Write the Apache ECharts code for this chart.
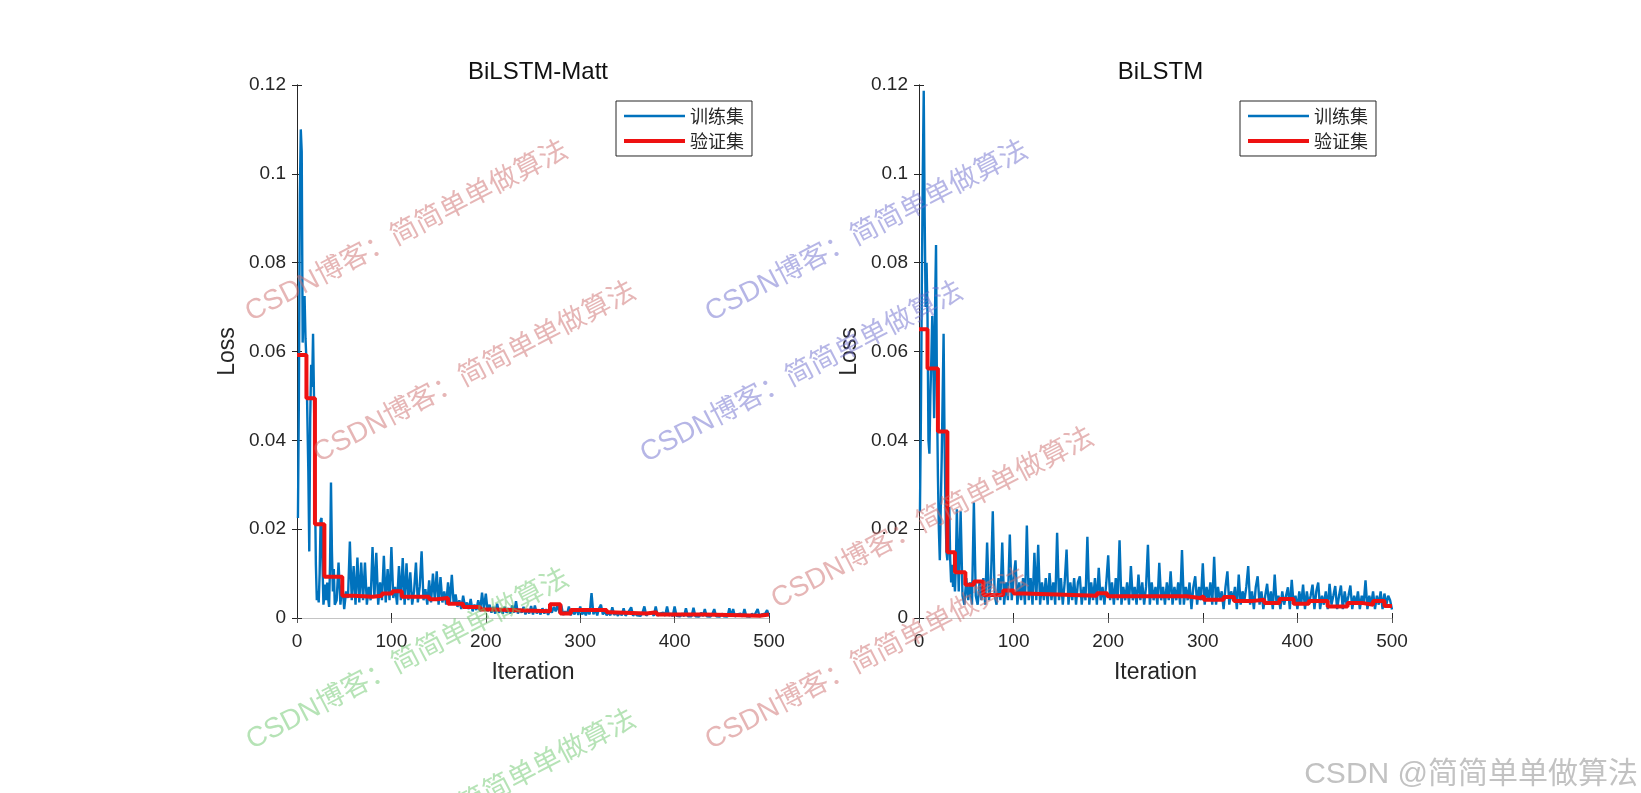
<!DOCTYPE html>
<html>
<head>
<meta charset="utf-8">
<script src="https://cdn.jsdelivr.net/npm/echarts@6/dist/echarts.min.js"></script>
<style>
html,body{margin:0;padding:0;background:#fff;}
#chart{width:1641px;height:793px;}
</style>
</head>
<body>
<div id="chart"></div>
<script>
// ---------------- data ----------------
const titles = ['BiLSTM-Matt', 'BiLSTM'];
const seriesNames = ['训练集', '验证集'];
const xTickLabels = ['0', '100', '200', '300', '400', '500'];
const yTickLabels = ['0', '0.02', '0.04', '0.06', '0.08', '0.1', '0.12'];

// BiLSTM-Matt training loss: iterations 1..40 (every iteration)
const trainLeftEarly = [0.0225,0.05,0.095,0.11,0.105,0.062,0.07,0.0725,0.063,0.058,
  0.045,0.033,0.015,0.045,0.057,0.052,0.064,0.05,0.03,0.012,
  0.004,0.006,0.0035,0.01,0.022,0.0225,0.012,0.003,0.005,0.0075,
  0.004,0.008,0.0045,0.0025,0.012,0.0305,0.015,0.006,0.011,0.003];
// BiLSTM-Matt training loss: iterations 42..500 (every 2nd iteration)
const trainLeftLate = [
  0.004,0.0125,0.003,0.008,0.002,0.006,0.0045,0.0172,0.004,0.0117,
  0.003,0.0136,0.0035,0.0125,0.004,0.0125,0.003,0.007,0.004,0.016,
  0.0045,0.0147,0.003,0.008,0.004,0.014,0.0035,0.011,0.004,0.016,
  0.0045,0.007,0.003,0.0117,0.004,0.0135,0.003,0.0123,0.004,0.0103,
  0.003,0.006,0.0125,0.0035,0.007,0.015,0.004,0.0065,0.003,0.0085,
  0.0035,0.01,0.004,0.0105,0.003,0.0092,0.0035,0.006,0.003,0.008,
  0.0035,0.0097,0.003,0.0053,0.0025,0.004,0.002,0.005,0.0025,0.0035,
  0.002,0.0043,0.0015,0.003,0.0018,0.004,0.0015,0.0057,0.002,0.0055,
  0.0015,0.003,0.0012,0.0025,0.001,0.0032,0.0012,0.002,0.001,0.0025,
  0.0012,0.0022,0.001,0.0028,0.0012,0.0038,0.001,0.002,0.0012,0.0025,
  0.0008,0.002,0.001,0.0027,0.0008,0.0028,0.001,0.0018,0.0008,0.0022,
  0.001,0.002,0.0007,0.0018,0.0012,0.0025,0.0015,0.003,0.0012,0.0028,
  0.0007,0.0015,0.0008,0.0026,0.0006,0.0018,0.0008,0.0022,0.0007,0.0026,
  0.0008,0.0015,0.0006,0.0018,0.0008,0.0056,0.0008,0.002,0.0006,0.0022,
  0.003,0.0008,0.0015,0.0006,0.0012,0.0006,0.0024,0.0007,0.0012,0.0005,
  0.0013,0.0006,0.0022,0.0005,0.001,0.0006,0.0024,0.0005,0.0012,0.0006,
  0.001,0.0005,0.0012,0.0026,0.0005,0.001,0.0006,0.0012,0.0005,0.0026,
  0.0005,0.001,0.0006,0.0012,0.0005,0.0026,0.0005,0.001,0.0004,0.0026,
  0.0005,0.0008,0.0004,0.001,0.0004,0.0022,0.0004,0.0008,0.0004,0.0023,
  0.0004,0.0008,0.0003,0.0012,0.0004,0.002,0.0004,0.0008,0.0003,0.0009,
  0.002,0.0004,0.0008,0.0003,0.001,0.0004,0.0008,0.0003,0.0022,0.0004,
  0.002,0.0003,0.0008,0.0004,0.001,0.0003,0.002,0.0004,0.0008,0.0003,
  0.001,0.0004,0.0008,0.002,0.0003,0.0008,0.0004,0.001,0.0018,0.0005];
const valLeftIter = [0,10,19,29,48,60,80,90,101,111,140,148,160,176,194,208,268,279,290,328,331,370,381,430,470,490,500];
const valLeftLoss = [0.0592,0.0495,0.0211,0.0093,0.0050,0.0048,0.0050,0.0055,0.0060,0.0048,0.0042,0.0045,0.0032,0.0025,0.0019,0.0015,0.0031,0.0010,0.0018,0.0013,0.0010,0.0013,0.0008,0.0006,0.0005,0.0008,0.0008];

// BiLSTM training loss: iterations 1..40
const trainRightEarly = [0.024,0.045,0.075,0.1,0.1187,0.09,0.07,0.08,0.068,0.04,
  0.037,0.05,0.058,0.068,0.06,0.045,0.07,0.084,0.05,0.032,
  0.02,0.013,0.025,0.036,0.05,0.064,0.04,0.025,0.015,0.013,
  0.018,0.025,0.013,0.008,0.012,0.007,0.01,0.006,0.012,0.0245];
// BiLSTM training loss: iterations 42..500 (every 2nd iteration)
const trainRightLate = [
  0.006,0.024,0.005,0.003,0.009,0.004,0.008,0.003,0.026,0.005,
  0.003,0.008,0.004,0.009,0.003,0.017,0.004,0.008,0.024,0.005,
  0.003,0.009,0.004,0.017,0.003,0.008,0.004,0.0188,0.004,0.009,
  0.013,0.003,0.008,0.004,0.009,0.003,0.0208,0.004,0.009,0.003,
  0.0147,0.004,0.0165,0.003,0.008,0.004,0.009,0.003,0.0101,0.004,
  0.008,0.003,0.0192,0.004,0.009,0.003,0.008,0.0154,0.003,0.008,
  0.004,0.009,0.003,0.008,0.0094,0.003,0.007,0.004,0.0183,0.003,
  0.008,0.004,0.009,0.003,0.0113,0.004,0.007,0.003,0.008,0.0141,
  0.004,0.008,0.003,0.009,0.004,0.0175,0.003,0.007,0.004,0.008,
  0.003,0.0117,0.004,0.007,0.003,0.0098,0.004,0.008,0.003,0.007,
  0.0165,0.003,0.008,0.004,0.007,0.003,0.0124,0.004,0.007,0.003,
  0.008,0.004,0.0105,0.003,0.007,0.004,0.008,0.003,0.0153,0.003,
  0.007,0.004,0.008,0.002,0.007,0.0094,0.003,0.007,0.004,0.0123,
  0.003,0.007,0.004,0.008,0.003,0.0138,0.003,0.007,0.004,0.006,
  0.002,0.007,0.0105,0.003,0.006,0.004,0.007,0.002,0.0098,0.003,
  0.006,0.004,0.007,0.0117,0.003,0.006,0.002,0.007,0.0094,0.003,
  0.006,0.002,0.005,0.0077,0.003,0.006,0.002,0.0098,0.003,0.005,
  0.002,0.006,0.003,0.005,0.0069,0.002,0.0086,0.003,0.005,0.002,
  0.006,0.003,0.0075,0.002,0.006,0.003,0.005,0.0075,0.002,0.006,
  0.008,0.002,0.005,0.003,0.006,0.002,0.0077,0.003,0.005,0.0072,
  0.002,0.005,0.0073,0.002,0.006,0.003,0.005,0.0073,0.002,0.005,
  0.003,0.006,0.002,0.005,0.003,0.0085,0.002,0.005,0.003,0.006,
  0.002,0.005,0.003,0.006,0.002,0.0055,0.003,0.005,0.004,0.0019];
const valRightIter = [0,9,20,30,38,49,58,68,89,100,111,146,188,199,283,297,301,322,333,351,365,381,396,412,432,453,468,480,492,500];
const valRightLoss = [0.065,0.0562,0.042,0.0148,0.0103,0.0075,0.0082,0.0052,0.0062,0.0055,0.0053,0.0050,0.0056,0.0049,0.0045,0.0049,0.0041,0.0047,0.0038,0.0041,0.0034,0.0043,0.0032,0.0038,0.0026,0.0034,0.0030,0.0038,0.0027,0.0027];

const watermarkText = 'CSDN博客：简简单单做算法';
const footerText = 'CSDN @简简单单做算法';

// ---------------- build ----------------
function trainPairs(early, late) {
  const out = [];
  early.forEach((v, k) => out.push([k + 1, v]));
  late.forEach((v, k) => out.push([42 + 2 * k, v]));
  return out;
}
function zipPairs(xs, ys) { return xs.map((x, k) => [x, ys[k]]); }

const FONT = '"Liberation Sans", Arial, "Noto Sans CJK SC", sans-serif';
const CJK = '"Noto Sans CJK SC", "Liberation Sans", sans-serif';
const INK = '#262626';
const BLUE = '#0072BD';
const RED = '#ee1111';
const TRAIN_W = 2.4;
const VAL_W = 4;

const grids = [
  {left: 297, top: 85, width: 472, height: 533},
  {left: 919, top: 85, width: 473, height: 533}
];

const xAxes = [], yAxes = [], series = [], titleArr = [], legends = [];
grids.forEach((g, gi) => {
  xAxes.push({
    type: 'value', gridIndex: gi, position: 'bottom', min: 0, max: 500, interval: 100,
    name: 'Iteration', nameLocation: 'middle', nameGap: 43,
    nameTextStyle: {fontFamily: FONT, fontSize: 23, color: INK},
    axisLine: {show: true, lineStyle: {color: INK, width: 1}},
    axisTick: {show: true, inside: true, length: 5, lineStyle: {color: INK}},
    axisLabel: {fontFamily: FONT, fontSize: 19, color: INK, margin: 14,
      formatter: v => xTickLabels[Math.round(v / 100)]},
    splitLine: {show: false}
  });
  xAxes.push({
    type: 'value', gridIndex: gi, position: 'top', min: 0, max: 500, interval: 100,
    axisLine: {show: true, lineStyle: {color: '#c4c4c4', width: 1}},
    axisTick: {show: true, inside: true, length: 5, lineStyle: {color: '#555'}},
    axisLabel: {show: false}, splitLine: {show: false}
  });
  yAxes.push({
    type: 'value', gridIndex: gi, position: 'left', min: 0, max: 0.12, interval: 0.02,
    name: 'Loss', nameLocation: 'middle', nameGap: 58,
    nameTextStyle: {fontFamily: FONT, fontSize: 23, color: INK},
    axisLine: {show: true, lineStyle: {color: INK, width: 1}},
    axisTick: {show: true, inside: true, length: 5, lineStyle: {color: INK}},
    axisLabel: {fontFamily: FONT, fontSize: 19, color: INK, margin: 11,
      formatter: v => yTickLabels[Math.round(v / 0.02)]},
    splitLine: {show: false}
  });
  yAxes.push({
    type: 'value', gridIndex: gi, position: 'right', min: 0, max: 0.12, interval: 0.02,
    axisLine: {show: true, lineStyle: {color: INK, width: 1}},
    axisTick: {show: true, inside: true, length: 5, lineStyle: {color: INK}},
    axisLabel: {show: false}, splitLine: {show: false}
  });
  titleArr.push({
    text: titles[gi], left: g.left + g.width / 2, top: 55, textAlign: 'center',
    textStyle: {fontFamily: FONT, fontSize: 24, fontWeight: 'normal', color: '#111'}
  });
  legends.push({
    data: [
      {name: seriesNames[0], lineStyle: {width: TRAIN_W, color: BLUE}},
      {name: seriesNames[1], lineStyle: {width: VAL_W, color: RED}}
    ],
    orient: 'vertical',
    left: gi === 0 ? 616 : 1240, top: 101,
    itemWidth: 61, itemHeight: 14, itemGap: 7,
    padding: [6, 8, 6, 6],
    backgroundColor: '#fff', borderColor: INK, borderWidth: 1, borderRadius: 0,
    selectedMode: false,
    itemStyle: {color: 'rgba(0,0,0,0)', borderWidth: 0, opacity: 0},
    textStyle: {fontFamily: CJK, fontSize: 18, color: INK}
  });
});

const trainData = [trainPairs(trainLeftEarly, trainLeftLate), trainPairs(trainRightEarly, trainRightLate)];
const valData = [zipPairs(valLeftIter, valLeftLoss), zipPairs(valRightIter, valRightLoss)];

[0, 1].forEach(gi => {
  series.push({
    name: seriesNames[0], type: 'line', xAxisIndex: gi * 2, yAxisIndex: gi * 2,
    data: trainData[gi], showSymbol: false, symbol: 'none', sampling: null,
    lineStyle: {color: BLUE, width: TRAIN_W}, itemStyle: {color: BLUE}, z: 2, clip: true
  });
  series.push({
    name: seriesNames[1], type: 'line', xAxisIndex: gi * 2, yAxisIndex: gi * 2,
    data: valData[gi], step: 'end', showSymbol: false, symbol: 'none',
    lineStyle: {color: RED, width: VAL_W}, itemStyle: {color: RED}, z: 3, clip: true
  });
});

// watermarks (start point, colour)
const wmStarts = [
  [254, 327, 'rgba(205,110,110,0.5)'],
  [322, 468, 'rgba(205,110,110,0.5)'],
  [714, 327, 'rgba(110,110,205,0.5)'],
  [649, 468, 'rgba(110,110,205,0.5)'],
  [780, 614, 'rgba(205,110,110,0.5)'],
  [714, 755, 'rgba(205,110,110,0.5)'],
  [255, 755, 'rgba(110,200,110,0.5)'],
  [322, 896, 'rgba(110,200,110,0.5)']
];
const graphics = wmStarts.map(w => ({
  type: 'text', x: w[0], y: w[1], rotation: 0.48, z: 100, silent: true,
  style: {text: watermarkText, fill: w[2], font: '28px ' + FONT, align: 'left', verticalAlign: 'bottom'}
}));
graphics.push({
  type: 'text', x: 1638, y: 775, z: 100, silent: true,
  style: {text: footerText, fill: '#c2c2c2', font: '30px ' + FONT, align: 'right', verticalAlign: 'middle'}
});

const chart = echarts.init(document.getElementById('chart'), null, {renderer: 'canvas'});
chart.setOption({
  animation: false,
  backgroundColor: '#fff',
  title: titleArr,
  legend: legends,
  grid: grids,
  xAxis: xAxes,
  yAxis: yAxes,
  series: series,
  graphic: graphics
});
</script>
</body>
</html>
